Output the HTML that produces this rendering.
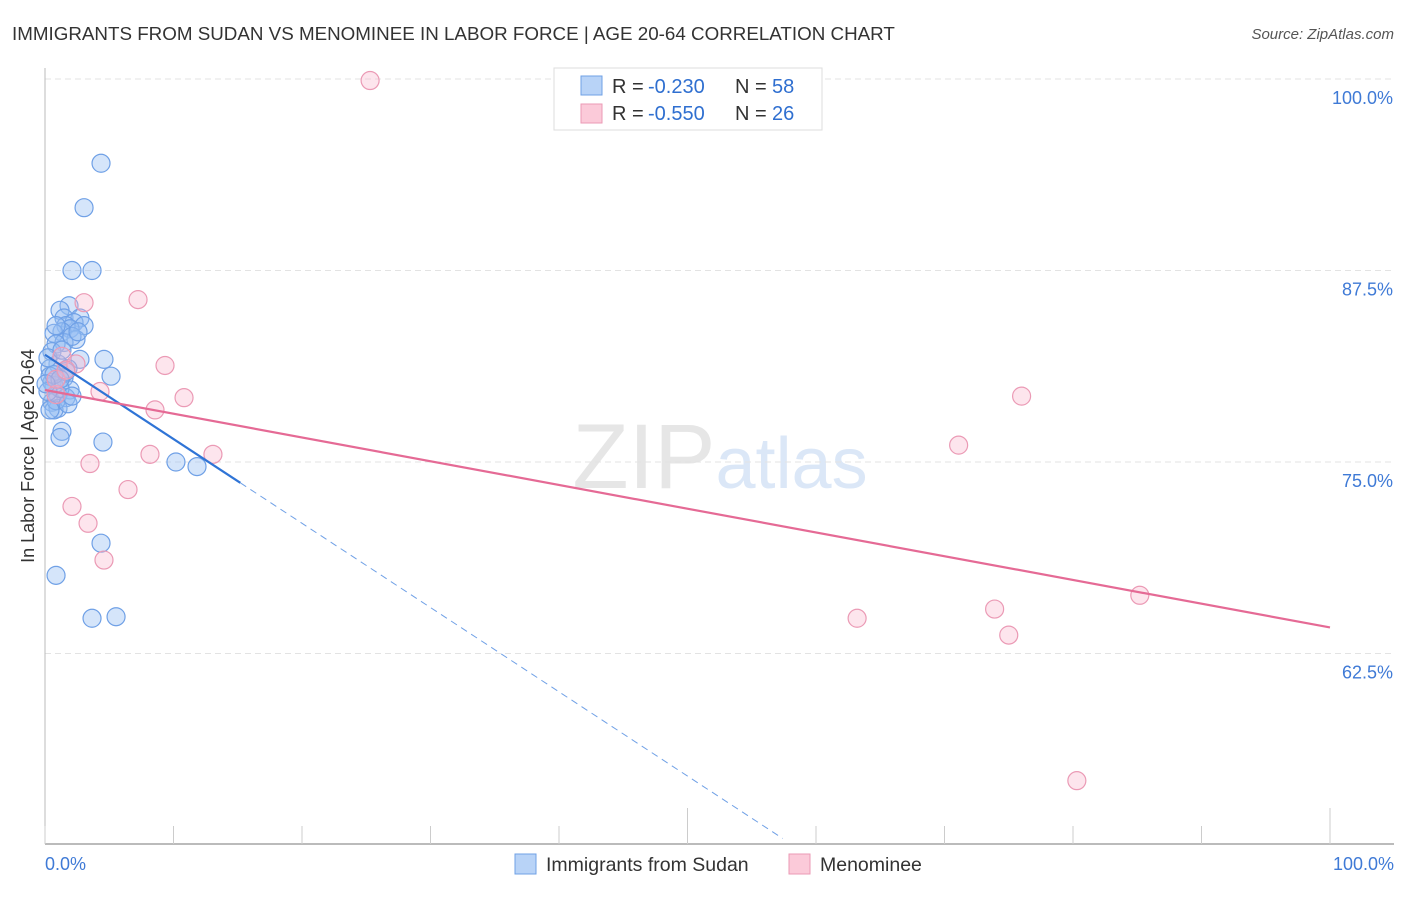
<!DOCTYPE html>
<html><head><meta charset="utf-8"><style>
body{margin:0;background:#fff;font-family:"Liberation Sans",sans-serif}
svg text{font-family:"Liberation Sans",sans-serif}
</style></head><body>
<svg id="c" width="1406" height="892">
<text x="12" y="40" font-size="18.8" fill="#333">IMMIGRANTS FROM SUDAN VS MENOMINEE IN LABOR FORCE | AGE 20-64 CORRELATION CHART</text>
<text x="1394" y="39" font-size="15" fill="#555" font-style="italic" text-anchor="end">Source: ZipAtlas.com</text>
<text x="720" y="488" font-size="92" fill="#e6e6e6" text-anchor="middle" font-family="Liberation Serif">ZIP<tspan fill="#dbe7f7" font-family="Liberation Sans" font-size="72">atlas</tspan></text>
<text transform="translate(34,456) rotate(-90)" font-size="18" fill="#333" text-anchor="middle">In Labor Force | Age 20-64</text>
<g id="grid"></g><g id="axes"></g><g id="marks"></g>
<g>
<rect x="554" y="68" width="268" height="62" fill="#fff" stroke="#ddd"/>
<rect x="581" y="76" width="21" height="19" fill="#b8d3f7" stroke="#6fa0e6"/>
<rect x="581" y="104" width="21" height="19" fill="#fbcad9" stroke="#eb9ab5"/>
<text x="612" y="93" font-size="20" fill="#333">R = </text><text x="648" y="93" font-size="20" fill="#2f6fd0">-0.230</text>
<text x="735" y="93" font-size="20" fill="#333">N = </text><text x="772" y="93" font-size="20" fill="#2f6fd0">58</text>
<text x="612" y="120" font-size="20" fill="#333">R = </text><text x="648" y="120" font-size="20" fill="#2f6fd0">-0.550</text>
<text x="735" y="120" font-size="20" fill="#333">N = </text><text x="772" y="120" font-size="20" fill="#2f6fd0">26</text>
</g>
<g>
<rect x="515" y="854" width="21" height="20" fill="#b8d3f7" stroke="#6fa0e6"/>
<text x="546" y="871" font-size="19.5" fill="#333">Immigrants from Sudan</text>
<rect x="789" y="854" width="21" height="20" fill="#fbcad9" stroke="#eb9ab5"/>
<text x="820" y="871" font-size="19.5" fill="#333">Menominee</text>
</g>
</svg>
<script>
const yTicks=[100,87.5,75,62.5];
const yTickLabels=["100.0%","87.5%","75.0%","62.5%"];
const xTickLabels=["0.0%","100.0%"];
const sudanX=[4.36,3.04,2.10,3.66,1.87,1.17,1.48,2.72,2.26,1.63,3.04,1.95,1.32,0.70,2.41,1.48,0.86,0.54,2.72,4.59,1.01,1.79,0.39,5.14,1.48,0.54,0.70,1.95,1.01,1.63,0.54,1.01,0.70,1.32,1.17,4.51,10.19,11.83,4.36,0.86,3.66,5.53,0.23,0.39,0.86,1.17,1.63,2.10,0.86,2.57,1.32,0.23,0.70,1.79,2.10,0.39,1.17,0.08];
const sudanY=[94.5,91.6,87.5,87.5,85.2,84.9,84.4,84.4,84.1,83.9,83.9,83.7,83.5,83.4,83.0,82.8,82.7,82.2,81.7,81.7,81.4,81.1,81.1,80.6,80.5,80.2,80.0,79.7,79.4,79.2,78.9,78.5,78.4,77.0,76.6,76.3,75.0,74.7,69.7,67.6,64.8,64.9,81.8,80.6,79.0,79.8,80.9,83.2,83.9,83.5,82.3,79.6,80.7,78.8,79.3,78.4,80.4,80.1];
const menX=[25.3,7.24,3.04,9.34,1.32,10.82,2.41,4.28,8.56,0.86,8.17,13.07,3.50,6.46,2.10,3.35,4.59,71.1,76.0,63.2,73.9,75.0,85.2,80.3,0.86,1.63];
const menY=[99.9,85.6,85.4,81.3,81.9,79.2,81.4,79.6,78.4,79.4,75.5,75.5,74.9,73.2,72.1,71.0,68.6,76.1,79.3,64.8,65.4,63.7,66.3,54.2,80.4,81.0];
const sudanTrend=[82.0,-0.55,15.2,57.4];
const menTrend=[79.7,64.2];
const NS="http://www.w3.org/2000/svg";
const X=v=>45+v*12.85, Y=v=>79+(100-v)*15.32;
function mk(t,a,p){const e=document.createElementNS(NS,t);for(const k in a)e.setAttribute(k,a[k]);document.getElementById(p).appendChild(e);return e;}
yTicks.forEach((t,i)=>{
 const g=mk('line',{x1:45,x2:1394,y1:Y(t),y2:Y(t),stroke:'#e3e3e3','stroke-dasharray':'6,4'},'grid');
 
 
 const l=mk('text',{x:1393,y:Y(t)+25,'font-size':18,fill:'#3f7ad6','text-anchor':'end'},'axes');l.textContent=yTickLabels[i];
 
 
});
let a=mk('line',{x1:45,x2:45,y1:68,y2:844,stroke:'#bbb'},'axes');


a=mk('line',{x1:45,x2:1394,y1:844,y2:844,stroke:'#bbb','stroke-width':2},'axes');


for(let i=0;i<=10;i++){const t=mk('line',{x1:X(i*10),x2:X(i*10),y1:(i==5||i==10)?808:826,y2:844,stroke:'#ccc'},'axes');
 
 }
[[0,'start',45],[100,'end',1394]].forEach((d,i)=>{const l=mk('text',{x:d[2],y:870,'font-size':18,fill:'#3f7ad6','text-anchor':d[1]},'axes');l.textContent=xTickLabels[i];
 
 });
sudanX.forEach((x,i)=>{const c=mk('circle',{cx:X(x),cy:Y(sudanY[i]),r:9,fill:'rgba(150,190,242,0.4)',stroke:'#6fa0e6','stroke-width':1.2},'marks');
 
 });
menX.forEach((x,i)=>{const c=mk('circle',{cx:X(x),cy:Y(menY[i]),r:9,fill:'rgba(248,180,202,0.35)',stroke:'#eb9ab5','stroke-width':1.2},'marks');
 
 });
const sy=x=>sudanTrend[0]+sudanTrend[1]*x;
let t=mk('line',{x1:X(0),y1:Y(sy(0)),x2:X(sudanTrend[2]),y2:Y(sy(sudanTrend[2])),stroke:'#2f74d6','stroke-width':2.2},'marks');


t=mk('line',{x1:X(sudanTrend[2]),y1:Y(sy(sudanTrend[2])),x2:X(sudanTrend[3]),y2:Y(sy(sudanTrend[3])),stroke:'#6fa0e6','stroke-width':1,'stroke-dasharray':'7,5'},'marks');


t=mk('line',{x1:X(0),y1:Y(menTrend[0]),x2:X(100),y2:Y(menTrend[1]),stroke:'#e56a95','stroke-width':2.2},'marks');


</script>
</body></html>
